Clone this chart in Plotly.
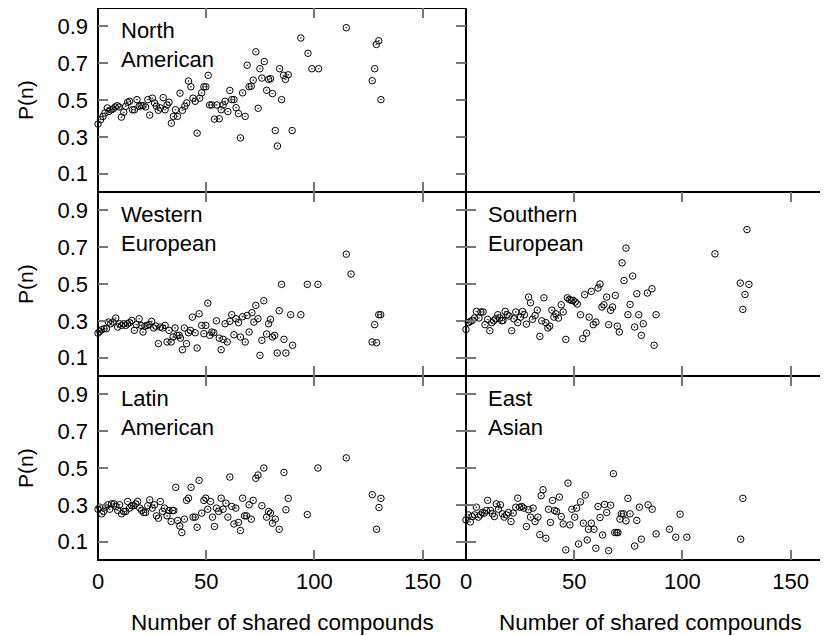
import plotly.graph_objects as go

# ---------------- data ----------------
na_x = [0, 1.2, 2.3, 3.2, 4.3, 5.1, 6.0, 6.9, 7.9, 8.9, 9.7, 10.8, 11.9, 12.8, 13.7, 14.6, 15.9, 16.8, 18.0, 19.0,
        19.9, 20.8, 22.0, 23.0, 23.9, 25.1, 26.1, 27.0, 27.9, 28.8, 30.1, 31.0, 31.9, 32.8, 33.9, 34.8, 35.8, 36.7, 37.9, 39.0,
        40.1, 41.0, 41.8, 42.9, 43.9, 44.9, 45.8, 47.0, 47.9, 48.9, 49.8, 50.9, 51.6, 52.6, 53.8, 54.9, 56.0, 56.9, 57.8, 58.7,
        60.0, 60.9, 61.8, 62.8, 63.8, 64.9, 65.8, 66.8, 68.0, 68.9, 69.8, 70.8, 71.7, 72.9, 74.0, 74.8, 75.7, 76.8, 77.9, 78.8,
        79.7, 80.6, 81.9, 82.9, 83.9, 84.8, 85.7, 86.6, 87.9, 89.7, 93.7, 97.0, 98.8, 101.9, 114.7, 126.7, 127.8, 128.6, 129.7, 130.7]
na_y = [0.369, 0.393, 0.411, 0.429, 0.457, 0.438, 0.447, 0.451, 0.462, 0.469, 0.462, 0.407, 0.433, 0.466, 0.488, 0.493, 0.447, 0.447, 0.502, 0.466,
        0.469, 0.469, 0.462, 0.502, 0.418, 0.510, 0.484, 0.466, 0.444, 0.457, 0.513, 0.447, 0.473, 0.488, 0.374, 0.411, 0.447, 0.411, 0.537, 0.444,
        0.466, 0.484, 0.603, 0.572, 0.510, 0.493, 0.320, 0.510, 0.539, 0.572, 0.572, 0.634, 0.473, 0.473, 0.396, 0.473, 0.398, 0.447, 0.473, 0.493,
        0.437, 0.552, 0.502, 0.502, 0.458, 0.426, 0.294, 0.539, 0.411, 0.689, 0.572, 0.575, 0.608, 0.762, 0.455, 0.670, 0.619, 0.709, 0.553, 0.612,
        0.616, 0.535, 0.334, 0.250, 0.670, 0.502, 0.634, 0.612, 0.637, 0.334, 0.837, 0.754, 0.670, 0.670, 0.893, 0.605, 0.670, 0.802, 0.822, 0.502]

we_x = [0, 0.8, 1.7, 2.8, 3.9, 4.8, 5.9, 6.9, 8.2, 9.1, 10.0, 10.9, 11.9, 12.8, 13.7, 14.6, 15.6, 16.8, 17.7, 19.0,
        19.9, 20.8, 21.7, 22.7, 23.6, 24.8, 25.7, 26.7, 27.9, 28.8, 29.8, 31.0, 31.9, 32.8, 33.8, 34.7, 35.6, 36.5, 37.5, 38.1,
        39.0, 39.9, 40.9, 41.8, 42.7, 43.6, 44.9, 45.8, 46.7, 47.9, 48.9, 49.8, 50.7, 51.6, 52.6, 53.5, 54.7, 56.0, 56.9, 57.8,
        58.7, 59.7, 60.9, 61.8, 62.8, 63.7, 64.9, 65.8, 66.8, 68.0, 68.9, 69.8, 71.1, 72.0, 72.9, 73.9, 74.8, 75.7, 76.6, 77.9,
        78.8, 79.7, 80.6, 81.6, 82.8, 83.7, 84.8, 85.9, 86.8, 89.0, 89.9, 93.7, 96.7, 101.6, 114.7, 116.9, 126.6, 127.8, 128.7, 129.7, 130.6]
we_y = [0.233, 0.243, 0.252, 0.257, 0.257, 0.293, 0.284, 0.293, 0.315, 0.266, 0.284, 0.275, 0.284, 0.275, 0.284, 0.290, 0.302, 0.248, 0.279, 0.311,
        0.275, 0.239, 0.271, 0.275, 0.279, 0.297, 0.261, 0.271, 0.176, 0.266, 0.261, 0.275, 0.185, 0.248, 0.185, 0.212, 0.261, 0.221, 0.221, 0.206,
        0.143, 0.261, 0.176, 0.235, 0.248, 0.320, 0.235, 0.152, 0.338, 0.275, 0.230, 0.275, 0.396, 0.221, 0.239, 0.235, 0.300, 0.206, 0.143, 0.199,
        0.284, 0.185, 0.297, 0.333, 0.224, 0.311, 0.290, 0.212, 0.322, 0.185, 0.329, 0.239, 0.344, 0.293, 0.384, 0.311, 0.112, 0.194, 0.409, 0.228,
        0.284, 0.308, 0.212, 0.221, 0.125, 0.355, 0.498, 0.199, 0.125, 0.333, 0.167, 0.333, 0.498, 0.498, 0.662, 0.554, 0.185, 0.279, 0.181, 0.333, 0.333]

se_x = [0, 1.1, 2.0, 2.9, 3.9, 4.8, 6.0, 6.9, 7.9, 8.8, 10.0, 11.0, 11.9, 12.8, 13.7, 14.7, 15.6, 16.5, 17.1, 18.1,
        19.0, 19.9, 21.1, 22.1, 23.0, 23.9, 25.2, 26.1, 27.0, 27.9, 28.9, 29.8, 30.7, 31.9, 32.9, 34.1, 35.0, 36.0, 36.9, 37.8,
        38.7, 39.7, 40.6, 41.5, 42.7, 44.0, 44.9, 46.1, 46.8, 47.7, 48.6, 49.5, 50.5, 51.4, 52.9, 53.9, 54.8, 55.7, 56.9, 57.9,
        58.8, 60.0, 61.0, 61.9, 62.8, 63.7, 65.0, 65.9, 66.8, 67.7, 69.0, 69.9, 70.8, 72.1, 73.0, 73.9, 74.8, 75.8, 77.0, 77.9,
        78.9, 79.8, 81.0, 81.9, 83.8, 85.9, 86.9, 87.8, 115.0, 126.7, 127.9, 128.9, 129.8, 130.7]
se_y = [0.253, 0.290, 0.297, 0.302, 0.315, 0.351, 0.315, 0.348, 0.348, 0.279, 0.308, 0.246, 0.290, 0.300, 0.311, 0.333, 0.315, 0.300, 0.302, 0.351,
        0.333, 0.326, 0.246, 0.311, 0.348, 0.290, 0.320, 0.351, 0.333, 0.282, 0.429, 0.398, 0.308, 0.329, 0.358, 0.215, 0.300, 0.425, 0.290, 0.261,
        0.271, 0.358, 0.320, 0.338, 0.315, 0.387, 0.348, 0.199, 0.425, 0.416, 0.411, 0.411, 0.402, 0.391, 0.333, 0.203, 0.442, 0.233, 0.320, 0.460,
        0.279, 0.293, 0.478, 0.500, 0.375, 0.387, 0.429, 0.279, 0.357, 0.375, 0.438, 0.271, 0.239, 0.615, 0.519, 0.695, 0.333, 0.389, 0.543, 0.266,
        0.447, 0.333, 0.221, 0.284, 0.451, 0.474, 0.167, 0.333, 0.664, 0.505, 0.362, 0.443, 0.796, 0.498]

la_x = [0, 0.8, 1.7, 2.6, 3.5, 4.5, 5.4, 6.3, 7.4, 8.2, 9.1, 10.0, 10.9, 11.9, 12.8, 13.7, 14.6, 15.6, 16.5, 17.4,
        18.3, 19.3, 20.2, 21.1, 22.0, 23.0, 23.9, 25.1, 26.1, 27.0, 27.9, 28.8, 29.8, 30.7, 31.9, 32.8, 33.8, 34.4, 35.0, 35.9,
        36.8, 37.8, 38.7, 39.9, 40.9, 41.8, 43.0, 43.9, 44.9, 45.8, 46.7, 47.9, 48.9, 49.8, 50.7, 52.0, 52.9, 53.8, 54.7, 55.7,
        56.9, 57.8, 59.1, 60.0, 60.9, 61.8, 62.8, 63.7, 64.9, 65.8, 66.8, 67.7, 68.6, 69.8, 70.8, 71.7, 72.9, 73.9, 75.7, 76.6,
        77.9, 78.8, 79.7, 80.6, 81.9, 83.7, 85.9, 86.8, 87.9, 96.7, 101.6, 114.7, 126.7, 128.7, 129.8, 130.7]
la_y = [0.276, 0.287, 0.251, 0.264, 0.287, 0.300, 0.276, 0.305, 0.305, 0.291, 0.269, 0.300, 0.251, 0.264, 0.264, 0.318, 0.282, 0.295, 0.295, 0.305,
        0.318, 0.282, 0.269, 0.258, 0.258, 0.295, 0.327, 0.282, 0.300, 0.240, 0.227, 0.318, 0.264, 0.282, 0.240, 0.269, 0.209, 0.269, 0.269, 0.395,
        0.215, 0.185, 0.149, 0.222, 0.324, 0.336, 0.395, 0.233, 0.233, 0.178, 0.433, 0.255, 0.324, 0.336, 0.276, 0.318, 0.233, 0.182, 0.282, 0.264,
        0.336, 0.276, 0.309, 0.233, 0.451, 0.291, 0.196, 0.282, 0.204, 0.160, 0.336, 0.240, 0.240, 0.300, 0.222, 0.324, 0.444, 0.462, 0.295, 0.500,
        0.233, 0.264, 0.255, 0.200, 0.222, 0.167, 0.476, 0.273, 0.335, 0.247, 0.500, 0.555, 0.355, 0.167, 0.285, 0.335]

ea_x = [0, 1.1, 2.0, 2.9, 3.9, 4.8, 5.7, 6.6, 7.6, 8.5, 9.4, 10.0, 11.3, 12.2, 13.1, 14.0, 15.0, 15.9, 16.8, 17.7,
        18.7, 19.6, 20.8, 21.8, 23.0, 23.9, 24.8, 25.8, 26.7, 27.9, 28.9, 29.8, 31.0, 31.9, 33.2, 34.1, 34.7, 35.6, 36.9, 38.1,
        39.0, 40.0, 40.9, 41.8, 43.1, 44.0, 44.9, 46.1, 47.1, 48.0, 48.9, 50.2, 51.1, 52.0, 52.9, 54.2, 55.1, 56.0, 56.6, 57.9,
        59.1, 60.0, 61.0, 61.9, 63.1, 64.0, 65.0, 65.9, 66.8, 68.1, 68.7, 69.6, 70.2, 71.1, 71.8, 72.7, 73.9, 74.8, 75.8, 77.9,
        78.9, 80.1, 81.0, 84.1, 86.0, 87.8, 94.0, 96.9, 98.9, 102.0, 126.9, 127.9]
ea_y = [0.218, 0.245, 0.207, 0.236, 0.245, 0.287, 0.233, 0.245, 0.258, 0.255, 0.269, 0.324, 0.269, 0.251, 0.236, 0.305, 0.276, 0.300, 0.251, 0.233,
        0.245, 0.258, 0.209, 0.255, 0.287, 0.336, 0.287, 0.291, 0.282, 0.182, 0.273, 0.233, 0.282, 0.209, 0.233, 0.138, 0.349, 0.382, 0.118, 0.276,
        0.204, 0.324, 0.269, 0.264, 0.342, 0.236, 0.196, 0.055, 0.418, 0.191, 0.276, 0.233, 0.282, 0.087, 0.316, 0.200, 0.353, 0.109, 0.167, 0.200,
        0.167, 0.064, 0.291, 0.231, 0.136, 0.302, 0.258, 0.051, 0.298, 0.469, 0.149, 0.149, 0.149, 0.222, 0.251, 0.251, 0.213, 0.335, 0.251, 0.076,
        0.215, 0.287, 0.113, 0.300, 0.276, 0.142, 0.167, 0.124, 0.249, 0.124, 0.113, 0.335]

labels = ["North<br>American", "Western<br>European", "Southern<br>European", "Latin<br>American", "East<br>Asian"]
x_ticks = [0, 50, 100, 150]
y_ticks = [0.1, 0.3, 0.5, 0.7, 0.9]
y_tick_text = ["0.1", "0.3", "0.5", "0.7", "0.9"]
x_title = "Number of shared compounds"
y_title = "P(n)"

# ---------------- layout geometry ----------------
W, H = 828, 636
L, T, B, R = 90, 0, 84, 2
PW, PH = W - L - R, H - T - B
OFF = 8  # page body margin
FONT = "Liberation Sans, Arial, sans-serif"


def fx(p):  # screen px -> paper x
    return (p - OFF - L) / PW


def fy(p):  # screen px -> paper y
    return (H - B - (p - OFF)) / PH


col_dom = [[0, 0.5], [0.5, 1]]
row_dom = [[2 / 3, 1], [1 / 3, 2 / 3], [0, 1 / 3]]
xrange_ = [0, 170]

panels = [
    (0, 0, na_x, na_y, labels[0]),
    (1, 0, we_x, we_y, labels[1]),
    (1, 1, se_x, se_y, labels[2]),
    (2, 0, la_x, la_y, labels[3]),
    (2, 1, ea_x, ea_y, labels[4]),
]

fig = go.Figure()
layout = dict(
    width=W, height=H, margin=dict(l=L, r=R, t=T, b=B, autoexpand=False),
    paper_bgcolor="white", plot_bgcolor="white", showlegend=False,
    font=dict(family=FONT, color="black"),
)
annotations = []
shapes = []

for i, (r, c, xs, ys, lab) in enumerate(panels, start=1):
    xa = "x" if i == 1 else f"x{i}"
    ya = "y" if i == 1 else f"y{i}"
    fig.add_trace(go.Scatter(
        x=xs, y=ys, mode="markers", xaxis=xa, yaxis=ya, cliponaxis=False,
        marker=dict(symbol="circle-open-dot", size=6.5, color="black", line=dict(width=1, color="black")),
        hoverinfo="skip",
    ))
    xkey = "xaxis" if i == 1 else f"xaxis{i}"
    ykey = "yaxis" if i == 1 else f"yaxis{i}"
    layout[xkey] = dict(
        domain=col_dom[c], anchor=ya, range=xrange_,
        tickmode="array", tickvals=x_ticks, ticktext=[str(v) for v in x_ticks],
        showticklabels=(r == 2), ticks="inside", ticklen=10, tickwidth=1.5, tickcolor="#777777",
        showline=False, mirror="ticks",
        showgrid=False, zeroline=False, ticklabelstandoff=6,
        tickfont=dict(size=22, family=FONT, color="black"),
    )
    layout[ykey] = dict(
        domain=row_dom[r], anchor=xa, range=[0, 1],
        tickmode="array", tickvals=y_ticks, ticktext=y_tick_text,
        showticklabels=(c == 0), ticks="inside", ticklen=10, tickwidth=1.5, tickcolor="#777777",
        showline=False, mirror="ticks",
        showgrid=False, zeroline=False, ticklabelstandoff=9,
        tickfont=dict(size=22, family=FONT, color="black"),
    )
    # panel frame
    shapes.append(dict(
        type="rect", xref="paper", yref="paper",
        x0=col_dom[c][0], x1=col_dom[c][1], y0=row_dom[r][0], y1=row_dom[r][1],
        line=dict(color="black", width=2), fillcolor="rgba(0,0,0,0)", layer="below",
    ))
    # panel label
    top_px = [8, 192, 376][r]
    left_px = [119, 486][c]
    annotations.append(dict(
        text=lab, xref="paper", yref="paper", x=fx(left_px), y=fy(top_px + 8),
        xanchor="left", yanchor="top", align="left", showarrow=False,
        font=dict(size=22, family=FONT, color="black"),
    ))

# y titles (one per row, left side)
for r in range(3):
    d = row_dom[r]
    annotations.append(dict(
        text=y_title, xref="paper", yref="paper", x=fx(25), y=(d[0] + d[1]) / 2,
        xanchor="center", yanchor="middle", textangle=-90, showarrow=False,
        font=dict(size=21, family=FONT, color="black"),
    ))

# x titles (bottom of each column)
for c in range(2):
    d = col_dom[c]
    annotations.append(dict(
        text=x_title, xref="paper", yref="paper", x=(d[0] + d[1]) / 2, y=fy(622),
        xanchor="center", yanchor="middle", showarrow=False,
        font=dict(size=22.5, family=FONT, color="black"),
    ))

layout["annotations"] = annotations
layout["shapes"] = shapes
fig.update_layout(**layout)
fig.write_html("out.html")
